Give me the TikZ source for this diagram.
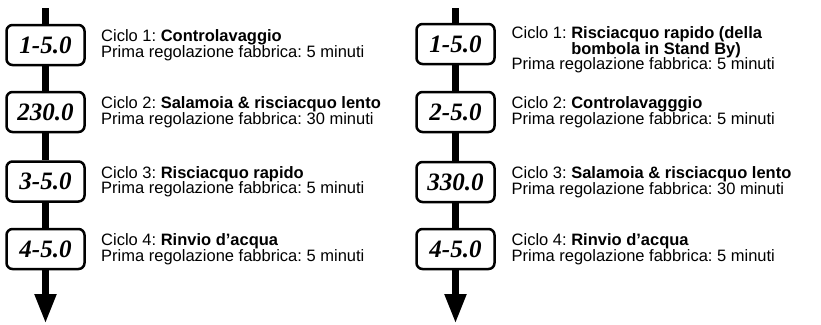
\documentclass[tikz,border=0pt]{standalone}
\usepackage{fontspec}
\setmainfont{Liberation Sans}
\newfontface\numfont{Liberation Serif Bold Italic}
\usetikzlibrary{arrows.meta, positioning}

\tikzset{
  ciclo/.style={draw, line width=2.5pt, rounded corners=6pt, fill=white,
    minimum width=78pt, minimum height=40pt, inner sep=0pt,
    font=\numfont\fontsize{25}{25}\selectfont},
  testo/.style={anchor=west, align=left, inner sep=0pt,
    font=\frenchspacing\fontsize{16.5}{15.5}\selectfont},
  asse/.style={line width=7.5pt},
  freccia/.style={asse, -{Triangle[length=30pt, width=20pt]}}
}

\begin{document}
\begin{tikzpicture}[x=1pt, y=1pt]
\useasboundingbox (0,0) rectangle (821,-324);  % formato del disegno

% Riquadri dei cicli
\node[ciclo] (l1) at (45.5,-45) {1-5.0};
\node[ciclo] (l2) at (45.5,-112) {230.0};
\node[ciclo] (l3) at (45.5,-181.5) {3-5.0};
\node[ciclo] (l4) at (45.5,-249) {4-5.0};
\node[ciclo] (r1) at (455.5,-44) {1-5.0};
\node[ciclo] (r2) at (455.5,-112) {2-5.0};
\node[ciclo] (r3) at (455.5,-182) {330.0};
\node[ciclo] (r4) at (455.5,-249) {4-5.0};

% Assi verticali con freccia finale
\coordinate (ltop) at (45.5,-8);
\coordinate (lend) at (45.5,-324);
\coordinate (rtop) at (455.5,-8);
\coordinate (rend) at (455.5,-324);
\draw[asse] (ltop) -- (l1);
\draw[asse] (l1) -- (l2);
\draw[asse] (l2) -- (l3);
\draw[asse] (l3) -- (l4);
\draw[freccia] (l4) -- (lend);
\draw[asse] (rtop) -- (r1);
\draw[asse] (r1) -- (r2);
\draw[asse] (r2) -- (r3);
\draw[asse] (r3) -- (r4);
\draw[freccia] (r4) -- (rend);

% Descrizioni, colonna sinistra
\node[testo] (lt1) at (101,-45) {Ciclo 1: \textbf{Controlavaggio}\\Prima regolazione fabbrica: 5 minuti};
\node[testo] (lt2) at (101,-112) {Ciclo 2: \textbf{Salamoia \& risciacquo lento}\\Prima regolazione fabbrica: 30 minuti};
\node[testo] (lt3) at (101,-181.5) {Ciclo 3: \textbf{Risciacquo rapido}\\Prima regolazione fabbrica: 5 minuti};
\node[testo] (lt4) at (101,-249) {Ciclo 4: \textbf{Rinvio d’acqua}\\Prima regolazione fabbrica: 5 minuti};

% Descrizioni, colonna destra
\node[testo] (rt1) at (511.5,-50) {Ciclo 1: \textbf{Risciacquo rapido (della}\\\phantom{Ciclo 1: }\textbf{bombola in Stand By)}\\Prima regolazione fabbrica: 5 minuti};
\node[testo] (rt2) at (511.5,-112) {Ciclo 2: \textbf{Controlavagggio}\\Prima regolazione fabbrica: 5 minuti};
\node[testo] (rt3) at (511.5,-182) {Ciclo 3: \textbf{Salamoia \& risciacquo lento}\\Prima regolazione fabbrica: 30 minuti};
\node[testo] (rt4) at (511.5,-249) {Ciclo 4: \textbf{Rinvio d’acqua}\\Prima regolazione fabbrica: 5 minuti};
\end{tikzpicture}
\end{document}
